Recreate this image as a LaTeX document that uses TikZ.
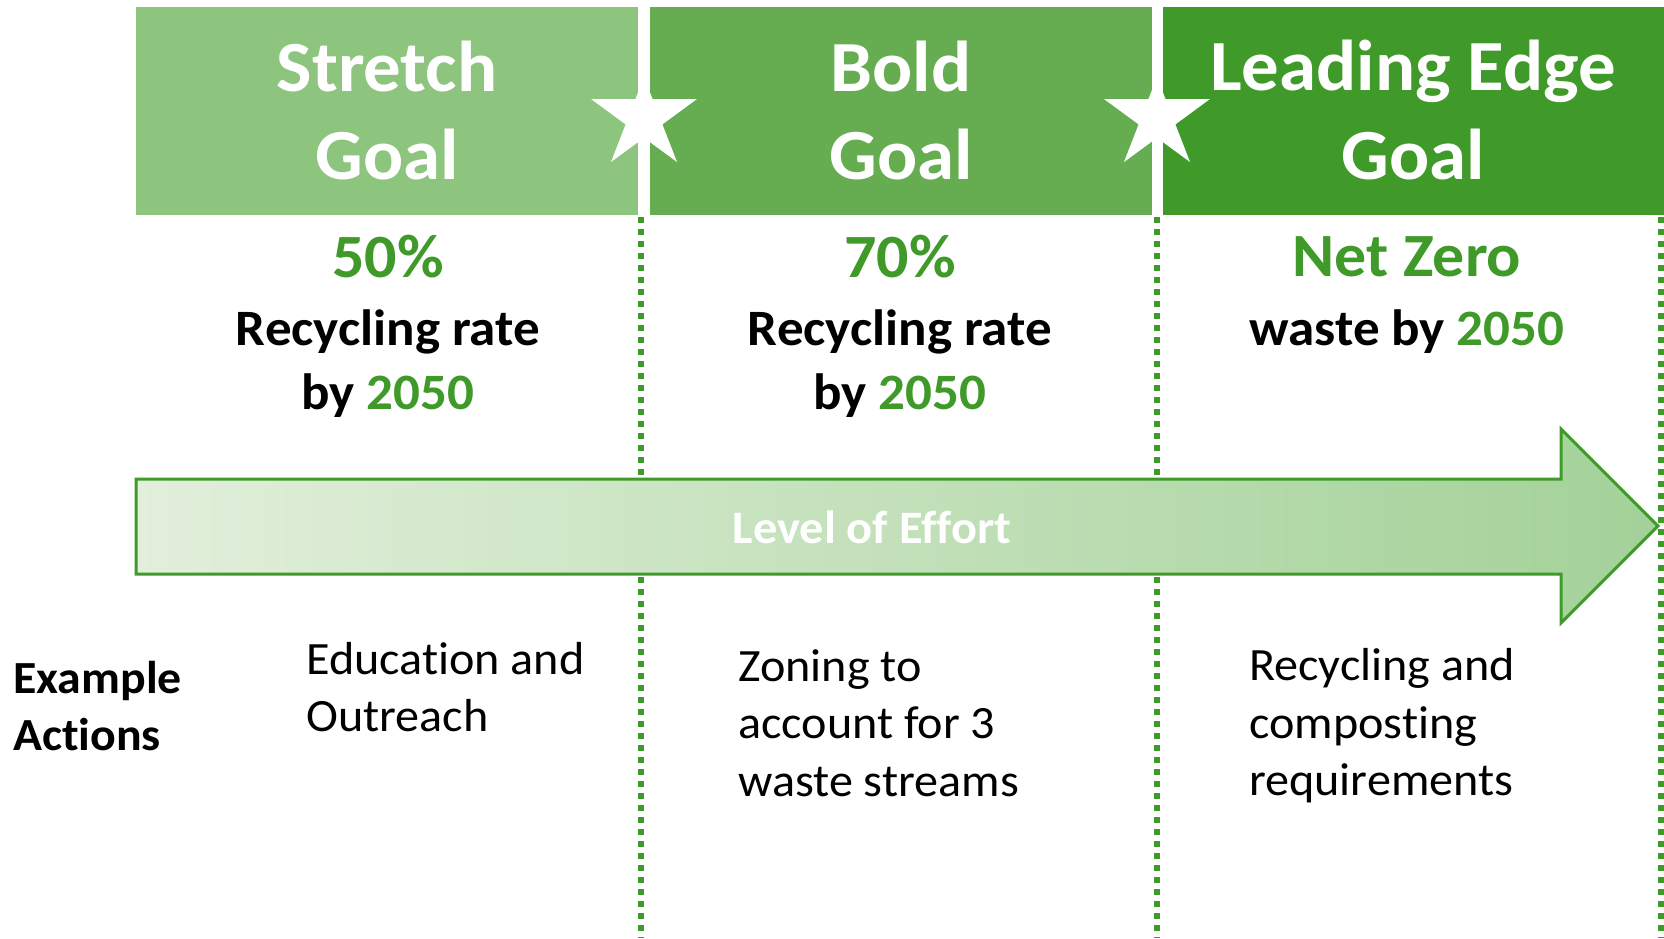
\documentclass[tikz,border=0pt]{standalone}
\usepackage{fontspec}
\setmainfont{Carlito}[FakeStretch=1.04, Ligatures=NoCommon]
\definecolor{gA}{HTML}{8DC47E}
\definecolor{gB}{HTML}{66AD52}
\definecolor{gC}{HTML}{3F9A2A}
\definecolor{aL}{HTML}{E2EFDB}
\definecolor{aR}{HTML}{A3D198}
\tikzset{
  hdrbox/.style={rectangle, inner sep=0, draw=none, minimum height=208pt},
  hdrtext/.style={anchor=base, inner sep=0, text=white, font=\bfseries\fontsize{72}{86}\selectfont},
  pcttext/.style={anchor=base, inner sep=0, text=gC, font=\bfseries\fontsize{61.5}{72}\selectfont},
  ratetext/.style={anchor=base, inner sep=0, text=black, font=\bfseries\fontsize{51}{60}\selectfont},
  efftext/.style={anchor=base, inner sep=0, text=white, font=\bfseries\fontsize{46.5}{56}\selectfont},
  acttext/.style={anchor=base west, inner sep=0, text=black, font=\fontsize{46.3}{56}\selectfont},
  exttext/.style={anchor=base west, inner sep=0, text=black, font=\bfseries\fontsize{46}{54}\selectfont},
  dotline/.style={draw=gC, line width=5.5pt, dash pattern=on 6pt off 6pt},
  starshape/.style={fill=white, draw=none}
}
\begin{document}
\begin{tikzpicture}[x=1pt,y=-1pt]
\useasboundingbox (0,0) rectangle (1664,938);
% header boxes
\node[hdrbox, fill=gA, minimum width=502pt] (sbox) at (387,111) {};
\node[hdrbox, fill=gB, minimum width=502pt] (bbox) at (901,111) {};
\node[hdrbox, fill=gC, minimum width=501pt] (lbox) at (1413.5,111) {};
% stars
\fill[starshape] (644,77) -- (652.5,99) -- (697,99) -- (662.4,124.4) -- (677,162) -- (644,137.8) -- (611,162) -- (625.6,124.4) -- (591,99) -- (635.5,99) -- cycle;
\fill[starshape] (1157,77) -- (1165.5,99) -- (1210,99) -- (1175.4,124.4) -- (1190,162) -- (1157,137.8) -- (1124,162) -- (1138.6,124.4) -- (1104,99) -- (1148.5,99) -- cycle;
% header texts
\node[hdrtext] (st1) at (387,91) {Stretch};
\node[hdrtext] (st2) at (387,179) {Goal};
\node[hdrtext] (bo1) at (901,91) {Bold};
\node[hdrtext] (bo2) at (901,179) {Goal};
\node[hdrtext] (le1) at (1413,90) {Leading Edge};
\node[hdrtext] (le2) at (1413,179) {Goal};
% dotted separators
\coordinate (d1t) at (641,217); \coordinate (d1b) at (641,938);
\coordinate (d2t) at (1157,217); \coordinate (d2b) at (1157,938);
\coordinate (d3t) at (1661,217); \coordinate (d3b) at (1661,938);
\draw[dotline] (d1t) -- (d1b);
\draw[dotline] (d2t) -- (d2b);
\draw[dotline] (d3t) -- (d3b);
% goal texts
\node[pcttext] (p1) at (388,277) {50\%};
\node[ratetext] (r1) at (388,345) {Recycling rate};
\node[ratetext] (y1) at (388,409) {by \textcolor{gC}{2050}};
\node[pcttext] (p2) at (900,277) {70\%};
\node[ratetext] (r2) at (900,345) {Recycling rate};
\node[ratetext] (y2) at (900,409) {by \textcolor{gC}{2050}};
\node[pcttext] (p3) at (1407,276) {Net Zero};
\node[ratetext] (r3) at (1407,345) {waste by \textcolor{gC}{2050}};
% effort arrow
\shadedraw[left color=aL, right color=aR, draw=gC, line width=3pt, line join=miter]
  (136,479) -- (1561,479) -- (1561,429) -- (1658,526) -- (1561,623) -- (1561,574) -- (136,574) -- cycle;
\node[efftext] (eff) at (872,543) {Level of Effort};
% example actions
\node[exttext] (ex1) at (13,693) {Example};
\node[exttext] (ex2) at (13,750) {Actions};
\node[acttext] (a11) at (306,674) {Education and};
\node[acttext] (a12) at (306,731) {Outreach};
\node[acttext] (a21) at (738,681) {Zoning to};
\node[acttext] (a22) at (738,738) {account for 3};
\node[acttext] (a23) at (738,796) {waste streams};
\node[acttext] (a31) at (1249,680) {Recycling and};
\node[acttext] (a32) at (1249,738) {composting};
\node[acttext] (a33) at (1249,795) {requirements};
\end{tikzpicture}
\end{document}
